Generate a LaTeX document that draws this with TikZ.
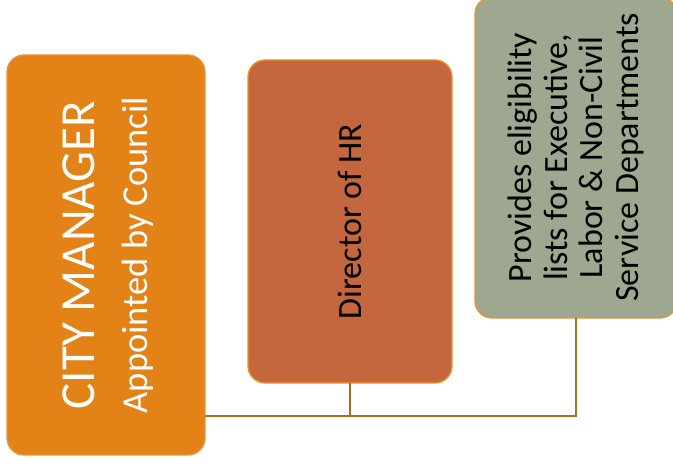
\documentclass[tikz,border=0pt]{standalone}
\usepackage{fontspec}
\setmainfont{Carlito}
\definecolor{cmfill}{HTML}{E38217}
\definecolor{hrfill}{HTML}{C4673F}
\definecolor{elfill}{HTML}{9EA891}
\definecolor{boxline}{HTML}{E8922E}
\definecolor{connc}{HTML}{B26A1F}
\begin{document}
\begin{tikzpicture}[x=1pt,y=1pt]
\tikzset{
  box/.style={rounded corners=17pt, line width=1.3pt, inner sep=0pt, outer sep=0pt},
  lbl/.style={rotate=90, align=center, inner sep=0pt},
  conn/.style={draw=connc, line width=1.6pt}
}
\useasboundingbox (0,0) rectangle (673,465);
\clip (0,0) rectangle (673,465);
% boxes
\node[box, draw=cmfill!85!white, fill=cmfill, minimum width=198pt, minimum height=400pt] (cm) at (106,210) {};
\node[box, draw=boxline, fill=hrfill, minimum width=204pt, minimum height=323pt] (hr) at (350,243.5) {};
\node[box, draw=boxline, fill=elfill, minimum width=202pt, minimum height=321pt] (el) at (576,307.5) {};
% labels
\node[lbl, text=white, font=\fontsize{49}{53}\selectfont] (cmt) at ([xshift=2pt]cm.center) {CITY MANAGER\\{\fontsize{36.5}{53}\selectfont Appointed by Council}};
\node[lbl, text=black, font=\fontsize{34}{36}\selectfont] (hrt) at (hr.center) {Director of HR};
\node[lbl, text=black, font=\fontsize{34}{35.5}\selectfont] (elt) at (el.center) {Provides eligibility\\lists for Executive,\\Labor \& Non-Civil\\Service Departments};
% connectors
\coordinate (bus) at (cm.east |- 0,49);
\draw[conn] (hr.south) |- (bus);
\draw[conn] (el.south) |- (bus);
\end{tikzpicture}
\end{document}
